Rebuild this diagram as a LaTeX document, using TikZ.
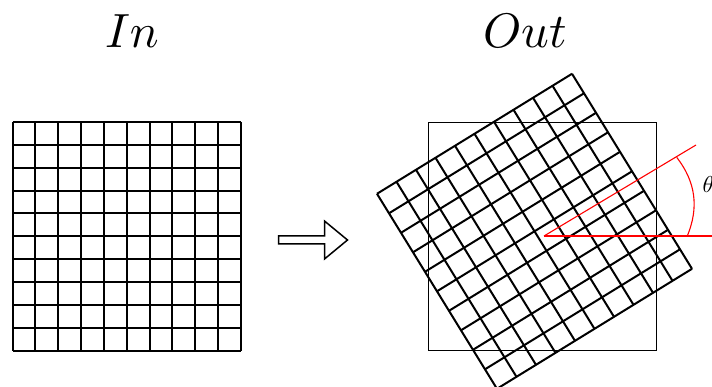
\documentclass[tikz,border=0pt]{standalone}
\usepackage{graphicx}
\tikzset{
  gridline/.style={line width=2pt, black},
  frame/.style={line width=0.8pt, black},
  redline/.style={line width=1.1pt, red},
  bigtext/.style={inner sep=0pt},
  anglabel/.style={inner sep=0pt},
  openarrow/.style={line width=1.5pt, black, fill=white}
}
\begin{document}
\begin{tikzpicture}[x=1pt,y=-1pt]
\useasboundingbox (0,0) rectangle (712,387);
% titles
\node[bigtext, anchor=base] (in) at (132,48) {\scalebox{4.8}{$In$}};
\node[bigtext, anchor=base] (out) at (525,48) {\scalebox{4.85}{$Out$}};
% left grid
\begin{scope}[shift={(12.5,122)}]
  \foreach \i in {0,...,10} {
    \draw[gridline] ({22.85*\i},0) -- ({22.85*\i},228.5);
    \draw[gridline] (0,{22.85*\i}) -- (228.5,{22.85*\i});
  }
\end{scope}
% arrow
\draw[openarrow] (278.5,236) -- (324.5,236) -- (324.5,221) -- (347.5,240)
  -- (324.5,259) -- (324.5,244) -- (278.5,244) -- cycle;
% output frame
\draw[frame] (428,122) rectangle (656,350);
% rotated grid
\begin{scope}[shift={(534.5,231.3)}, rotate=31.6]
  \foreach \i in {0,...,10} {
    \draw[gridline] ({-114.5+22.9*\i},-114.5) -- ({-114.5+22.9*\i},114.5);
    \draw[gridline] (-114.5,{-114.5+22.9*\i}) -- (114.5,{-114.5+22.9*\i});
  }
\end{scope}
% angle
\coordinate (o) at (544,236);
\coordinate (h) at (712,236);
\coordinate (r) at (696,145);
\coordinate (a1) at (687.3,236);
\coordinate (a2) at (676.7,157.3);
\draw[redline] (o) -- (h);
\draw[redline] (o) -- (r);
\draw[redline] (a1) to[bend right=30] (a2);
\node[anglabel, anchor=base west] (theta) at (702.5,192.5) {\scalebox{2.3}{$\theta$}};
\end{tikzpicture}
\end{document}
